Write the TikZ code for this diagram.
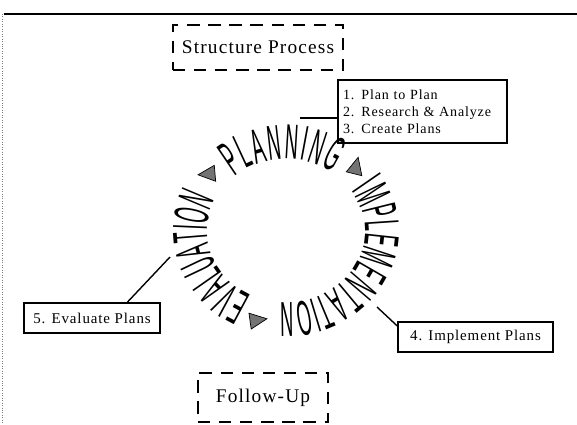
\documentclass[tikz,border=0pt]{standalone}
\usepackage{fontspec}
\usepackage{tikz}
\usetikzlibrary{decorations.text}
\newfontfamily\boxfont[LetterSpace=6]{Liberation Serif}
\newfontfamily\ringfont[FakeStretch=0.37]{Liberation Sans}
\newcommand\ringtext{\ringfont\fontsize{28}{28}\selectfont}
\tikzstyle{dbox} = [draw, thick, dash pattern=on 7pt off 5pt, font=\boxfont\fontsize{11}{13}\selectfont]
\tikzstyle{sbox} = [draw, thick, minimum height=0.6cm, font=\boxfont\fontsize{8.5}{10}\selectfont]
\tikzstyle{lbox} = [draw, thick, align=left, text width=3.18cm, inner xsep=0.1cm, minimum height=1.26cm, font=\boxfont\fontsize{8}{9.6}\selectfont]
\tikzstyle{link} = [thick]
\tikzstyle{tri} = [fill=black!55, draw=black, thin]
\tikzstyle{ring} = [decorate, decoration={text along path, text align=fit to path}]

\begin{document}
\begin{tikzpicture}[x=0.02cm, y=0.02cm]
	  \useasboundingbox (0,0) rectangle (577,424);
	  % page edge
	  \draw [line width=1.1pt] (4,410) -- (577,410);
	  \draw [densely dotted, gray] (2,410) -- (2,0);

	  \node (sp) at (258,376.5) [dbox, minimum width=3.4cm, minimum height=0.9cm] {Structure Process};
	  \node (fu) at (263,26.5) [dbox, minimum width=2.6cm, minimum height=0.98cm] {Follow-Up};
	  \node (lst) at (422.5,312.5) [lbox] {1. Plan to Plan\\2. Research \& Analyze\\3. Create Plans};
	  \node (imp) at (475.5,87) [sbox, minimum width=3.1cm] {4. Implement Plans};
	  \node (evl) at (92,106) [sbox, minimum width=2.72cm] {5. Evaluate Plans};

	  % the cycle
	  \coordinate (ctr) at (286,193);
	  \path [ring, decoration={text={|\ringtext|PLANNING}}]
	    ([shift={(131:79 and 72)}]ctr) arc [start angle=131, end angle=54, x radius=79, y radius=72];
	  \path [ring, decoration={text={|\ringtext|IMPLEMENTATION}}]
	    ([shift={(34:79 and 72)}]ctr) arc [start angle=34, end angle=-94, x radius=79, y radius=72];
	  \path [ring, decoration={text={|\ringtext|EVALUATION}}]
	    ([shift={(244:79 and 72)}]ctr) arc [start angle=244, end angle=154, x radius=79, y radius=72];
	  \foreach \x/\y/\r in {207/250/185, 356/258/76, 258/104/8}
	    \draw [tri, shift={(\x,\y)}, rotate=\r] (9,0) -- (-8,8) -- (-8,-8) -- cycle;

	  % leaders
	  \coordinate (pl) at (300,306);
	  \coordinate (im) at (377,117);
	  \coordinate (ev) at (170,167);
	  \draw [link] (pl) to (pl -| lst.west);
	  \draw [link] (im) to (imp.172);
	  \draw [link] (ev) to (evl.24);
	\end{tikzpicture}
\end{document}
